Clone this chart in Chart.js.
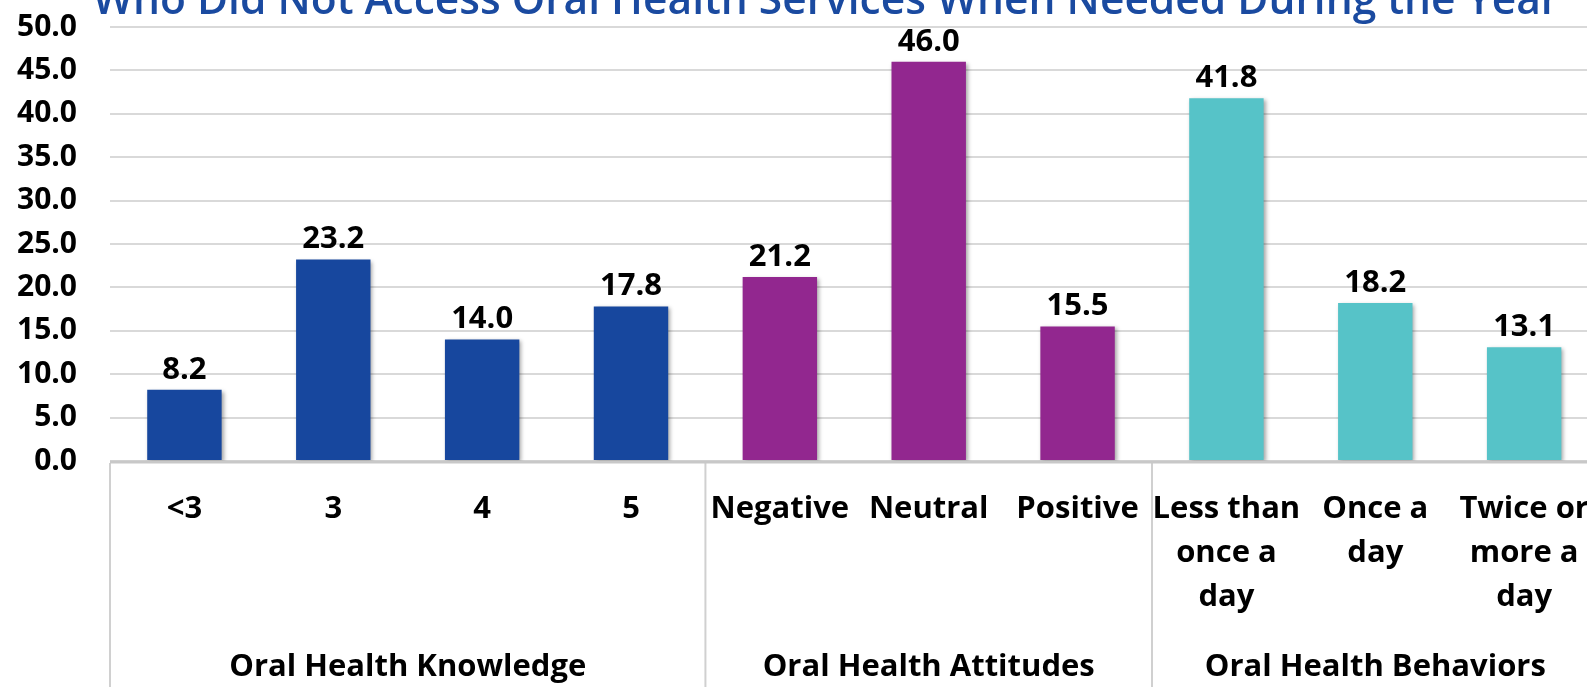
<!DOCTYPE html>
<html>
<head>
<meta charset="utf-8">
<script src="https://cdn.jsdelivr.net/npm/chart.js@4"></script>
<style>
  html, body { margin: 0; padding: 0; background: #fff; overflow: hidden; }
  #wrap { position: absolute; left: 0; top: -40px; width: 1615px; height: 727px; }
</style>
</head>
<body>
<div id="wrap"><canvas id="oral_chart"></canvas></div>
<script>
// 데이터
var title = 'Who Did Not Access Oral Health Services When Needed During the Year';
var categories = [['<3'], ['3'], ['4'], ['5'], ['Negative'], ['Neutral'], ['Positive'],
  ['Less than', 'once a', 'day'], ['Once a', 'day'], ['Twice or', 'more a', 'day']];
var values = [8.2, 23.2, 14.0, 17.8, 21.2, 46.0, 15.5, 41.8, 18.2, 13.1];
var groups = ['Oral Health Knowledge', 'Oral Health Attitudes', 'Oral Health Behaviors'];
var groupSizes = [4, 3, 3];
var groupColors = ['#17479E', '#92278F', '#56C3C8'];
var yTicks = [0, 5, 10, 15, 20, 25, 30, 35, 40, 45, 50];

var FONT = "'Open Sans', 'Noto Sans', sans-serif";

var barColors = [];
groupSizes.forEach(function (n, g) {
  for (var k = 0; k < n; k++) barColors.push(groupColors[g]);
});

var extras = {
  id: 'extras',
  beforeDatasetsDraw: function (chart) {
    var ctx = chart.ctx;
    ctx.save();
    ctx.shadowColor = 'rgba(0,0,0,0.35)';
    ctx.shadowBlur = 4;
    ctx.shadowOffsetX = 2;
    ctx.shadowOffsetY = 2;
  },
  afterDatasetsDraw: function (chart) {
    var ctx = chart.ctx;
    ctx.restore();
    // 값 라벨
    var meta = chart.getDatasetMeta(0);
    ctx.save();
    ctx.font = 'bold 31px ' + FONT;
    ctx.fillStyle = '#000';
    ctx.textAlign = 'center';
    ctx.textBaseline = 'middle';
    meta.data.forEach(function (bar, i) {
      ctx.fillText(values[i].toFixed(1), bar.x, bar.y - 20);
    });
    ctx.restore();
  },
  afterDraw: function (chart) {
    var ctx = chart.ctx;
    var x = chart.scales.x;
    var area = chart.chartArea;
    var bottom = chart.height;
    ctx.save();
    // 제목 (위쪽이 잘려 보임)
    ctx.font = '600 42.5px ' + FONT;
    ctx.fillStyle = '#1A4AA0';
    ctx.textAlign = 'center';
    ctx.textBaseline = 'alphabetic';
    ctx.fillText(title, 826, area.top - 13.5);
    // 구분선
    ctx.strokeStyle = '#d0d0d0';
    ctx.lineWidth = 2;
    var start = 0;
    var bounds = [x.left];
    groupSizes.forEach(function (n) {
      start += n;
      if (start < values.length) {
        bounds.push((x.getPixelForValue(start - 1) + x.getPixelForValue(start)) / 2);
      } else {
        bounds.push(x.right);
      }
    });
    for (var i = 0; i < bounds.length - 1; i++) {
      ctx.beginPath();
      ctx.moveTo(bounds[i], area.bottom + 2);
      ctx.lineTo(bounds[i], bottom);
      ctx.stroke();
    }
    // 축선
    ctx.strokeStyle = '#c8c8c8';
    ctx.lineWidth = 3;
    ctx.beginPath();
    ctx.moveTo(area.left, area.bottom + 1);
    ctx.lineTo(area.right, area.bottom + 1);
    ctx.stroke();
    // 그룹 라벨
    ctx.font = 'bold 31px ' + FONT;
    ctx.fillStyle = '#000';
    ctx.textAlign = 'center';
    ctx.textBaseline = 'middle';
    groups.forEach(function (g, i) {
      ctx.fillText(g, (bounds[i] + bounds[i + 1]) / 2, area.bottom + 206);
    });
    ctx.restore();
  }
};

new Chart(document.getElementById('oral_chart'), {
  type: 'bar',
  data: {
    labels: categories,
    datasets: [{
      data: values,
      backgroundColor: barColors,
      barPercentage: 0.5,
      categoryPercentage: 1.0
    }]
  },
  plugins: [extras],
  options: {
    responsive: true,
    maintainAspectRatio: false,
    animation: false,
    layout: { padding: { left: 0, right: 2, top: 67, bottom: 0 } },
    plugins: {
      legend: { display: false },
      tooltip: { enabled: false },
      title: { display: false }
    },
    scales: {
      x: {
        grid: { display: false, drawTicks: false },
        border: { display: false },
        ticks: {
          color: '#000',
          font: { family: FONT, size: 31, weight: 'bold', lineHeight: 1.42 },
          padding: 26,
          maxRotation: 0,
          autoSkip: false
        },
        afterFit: function (s) { s.height = 226; }
      },
      y: {
        min: 0,
        max: 50,
        afterBuildTicks: function (s) {
          s.ticks = yTicks.map(function (v) { return { value: v }; });
        },
        grid: { color: '#d9d9d9', lineWidth: 2, drawTicks: false },
        border: { display: false },
        ticks: {
          color: '#000',
          font: { family: FONT, size: 30, weight: 'bold' },
          padding: 33,
          callback: function (v) { return v.toFixed(1); }
        },
        afterFit: function (s) { s.width = 110; }
      }
    }
  }
});
</script>
</body>
</html>
